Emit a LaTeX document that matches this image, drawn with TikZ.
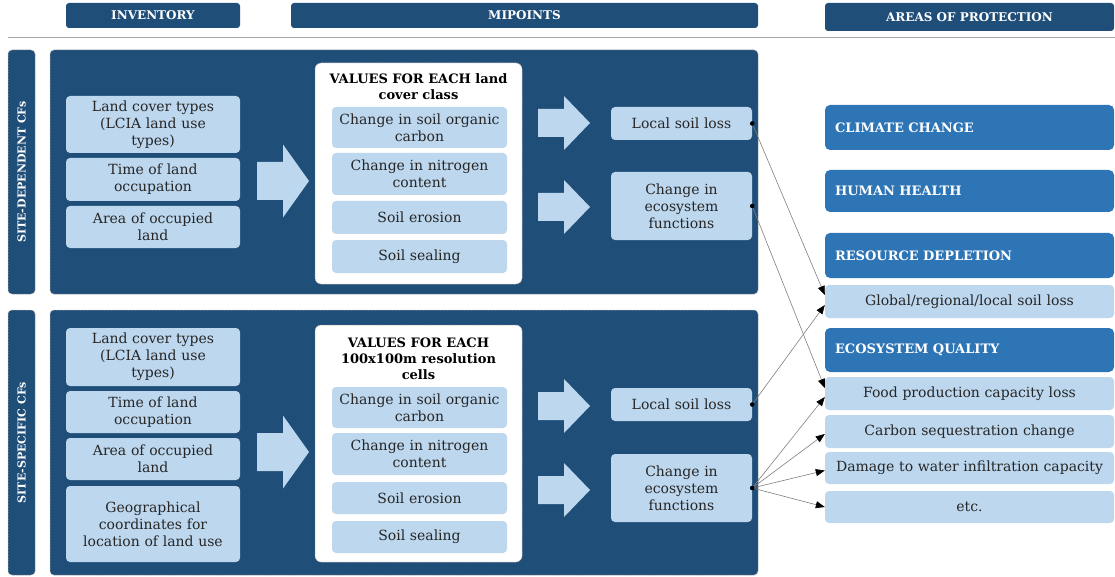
\documentclass[tikz,border=0pt]{standalone}
\usepackage{fontspec}
\setmainfont{DejaVu Serif}
\usetikzlibrary{arrows.meta}

\definecolor{navy}{HTML}{1F4E79}
\definecolor{aopblue}{HTML}{2E75B6}
\definecolor{paleblue}{HTML}{BDD7EE}
\definecolor{inkgray}{HTML}{262626}
\definecolor{rulegray}{HTML}{A6A6A6}
\definecolor{wiregray}{HTML}{7F7F7F}

\begin{document}
\begin{tikzpicture}[x=1pt, y=-1pt,
    header/.style={fill=navy, rounded corners=3pt, inner sep=0pt, text=white,
        font=\fontsize{12}{14}\selectfont\bfseries},
    panel/.style={fill=navy, draw=rulegray, line width=0.5pt, dash pattern=on 2pt off 1pt,
        rounded corners=4pt, inner sep=0pt},
    sidelabel/.style={panel, rotate=90, text=white, font=\fontsize{11}{13}\selectfont\bfseries},
    valuebox/.style={fill=white, draw=rulegray, line width=0.5pt, dash pattern=on 2pt off 1pt,
        rounded corners=6pt, inner sep=0pt},
    item/.style={fill=paleblue, rounded corners=4pt, inner sep=0pt, text=inkgray, align=center,
        font=\fontsize{14}{17}\selectfont},
    inv/.style={item, minimum width=174pt, text width=164pt},
    mid/.style={item, minimum width=175pt, text width=165pt},
    midpt/.style={item, minimum width=141pt, text width=131pt},
    sub/.style={item, minimum width=289pt, text width=279pt, minimum height=33pt},
    aop/.style={fill=aopblue, rounded corners=5pt, inner xsep=10pt, inner ysep=0pt,
        text width=269pt, align=left, text=white, font=\fontsize{13}{15}\selectfont\bfseries},
    link/.style={draw=wiregray, line width=0.6pt, -{Triangle[length=9pt, width=7pt, color=black]}},
]
    \useasboundingbox (0,0) rectangle (1115,577);

    % column headers
    \node[header, minimum width=174pt, minimum height=25pt] (hinv) at (153,15.5) {INVENTORY};
    \node[header, minimum width=467pt, minimum height=25pt] (hmid) at (524.5,15.5) {MIPOINTS};
    \node[header, minimum width=289pt, minimum height=28pt] (haop) at (969.5,17) {AREAS OF PROTECTION};
    \draw[rulegray, line width=1pt] (8,38) -- (1115,38);

    % the two bands
    \node[sidelabel, minimum width=244pt, minimum height=27pt] (sdep) at (21.5,172) {SITE-DEPENDENT CFs};
    \node[sidelabel, minimum width=265pt, minimum height=27pt] (sspec) at (21.5,442.5) {SITE-SPECIFIC CFs};
    \node[panel, minimum width=708pt, minimum height=244pt] (pdep) at (404,172) {};
    \node[panel, minimum width=708pt, minimum height=265pt] (pspec) at (404,442.5) {};

    % inventory
    \node[inv, minimum height=57pt] (lct1) at (153,124.5) {Land cover types\\(LCIA land use\\types)};
    \node[inv, minimum height=43pt] (tlo1) at (153,179.5) {Time of land\\occupation};
    \node[inv, minimum height=42pt] (aol1) at (153,227) {Area of occupied\\land};

    \node[inv, minimum height=58pt] (lct2) at (153,357) {Land cover types\\(LCIA land use\\types)};
    \node[inv, minimum height=42pt] (tlo2) at (153,412) {Time of land\\occupation};
    \node[inv, minimum height=42pt] (aol2) at (153,459) {Area of occupied\\land};
    \node[inv, minimum height=76pt] (geo2) at (153,524) {Geographical\\coordinates for\\location of land use};

    % fat arrows
    \foreach \ax/\ay/\sh/\hh in {257/181/19/36.5, 257/452/19/36.5, 538/123/14/27,
                                 538/207/14/27, 538/406/14/27, 538/490/14/27}
        \fill[paleblue] (\ax,\ay-\sh) -- (\ax+26,\ay-\sh) -- (\ax+26,\ay-\hh) -- (\ax+52,\ay)
            -- (\ax+26,\ay+\hh) -- (\ax+26,\ay+\sh) -- (\ax,\ay+\sh) -- cycle;

    % midpoint values
    \node[valuebox, minimum width=207pt, minimum height=221pt] (val1) at (418.5,173.5) {};
    \node[font=\fontsize{13}{16}\selectfont\bfseries, align=center] (vt1) at (418.5,86.5)
        {VALUES FOR EACH land\\cover class};
    \node[mid, minimum height=41pt] (soc1) at (419.5,127.5) {Change in soil organic\\carbon};
    \node[mid, minimum height=42pt] (nit1) at (419.5,174) {Change in nitrogen\\content};
    \node[mid, minimum height=33pt] (ero1) at (419.5,217.5) {Soil erosion};
    \node[mid, minimum height=33pt] (sea1) at (419.5,256.5) {Soil sealing};

    \node[valuebox, minimum width=207pt, minimum height=237pt] (val2) at (418.5,443.5) {};
    \node[font=\fontsize{13}{16}\selectfont\bfseries, align=center] (vt2) at (418.5,358.5)
        {VALUES FOR EACH\\100x100m resolution\\cells};
    \node[mid, minimum height=41pt] (soc2) at (419.5,407.5) {Change in soil organic\\carbon};
    \node[mid, minimum height=42pt] (nit2) at (419.5,454) {Change in nitrogen\\content};
    \node[mid, minimum height=32pt] (ero2) at (419.5,498) {Soil erosion};
    \node[mid, minimum height=32pt] (sea2) at (419.5,537) {Soil sealing};

    % midpoints
    \node[midpt, minimum height=33pt] (lsl1) at (681.5,123.5) {Local soil loss};
    \node[midpt, minimum height=68pt] (eco1) at (681.5,206) {Change in\\ecosystem\\functions};
    \node[midpt, minimum height=33pt] (lsl2) at (681.5,404.5) {Local soil loss};
    \node[midpt, minimum height=68pt] (eco2) at (681.5,488) {Change in\\ecosystem\\functions};

    % areas of protection
    \node[aop, minimum height=45pt] (clim) at (969.5,127.5) {CLIMATE CHANGE};
    \node[aop, minimum height=42pt] (hum) at (969.5,191) {HUMAN HEALTH};
    \node[aop, minimum height=45pt] (res) at (969.5,255.5) {RESOURCE DEPLETION};
    \node[sub] (gsl) at (969.5,301.5) {Global/regional/local soil loss};
    \node[aop, minimum height=44pt] (ecoq) at (969.5,350) {ECOSYSTEM QUALITY};
    \node[sub] (food) at (969.5,393.5) {Food production capacity loss};
    \node[sub] (carb) at (969.5,431.5) {Carbon sequestration change};
    \node[sub, minimum height=32pt] (dmg) at (969.5,468) {Damage to water infiltration capacity};
    \node[sub, minimum height=32pt] (etc) at (969.5,507) {etc.};

    % links
    \foreach \a/\b/\s in {lsl1/gsl/6.5, lsl2/gsl/-3.5, eco1/food/5.5, eco2/food/-3.5,
                          eco2/carb/-2.5, eco2/dmg/-2.5, eco2/etc/0}
        \draw[link] (\a.east) -- ([yshift=\s]\b.west);
    \foreach \a in {lsl1, eco1, lsl2, eco2}
        \fill (\a.east) circle (2.3pt);
\end{tikzpicture}
\end{document}
